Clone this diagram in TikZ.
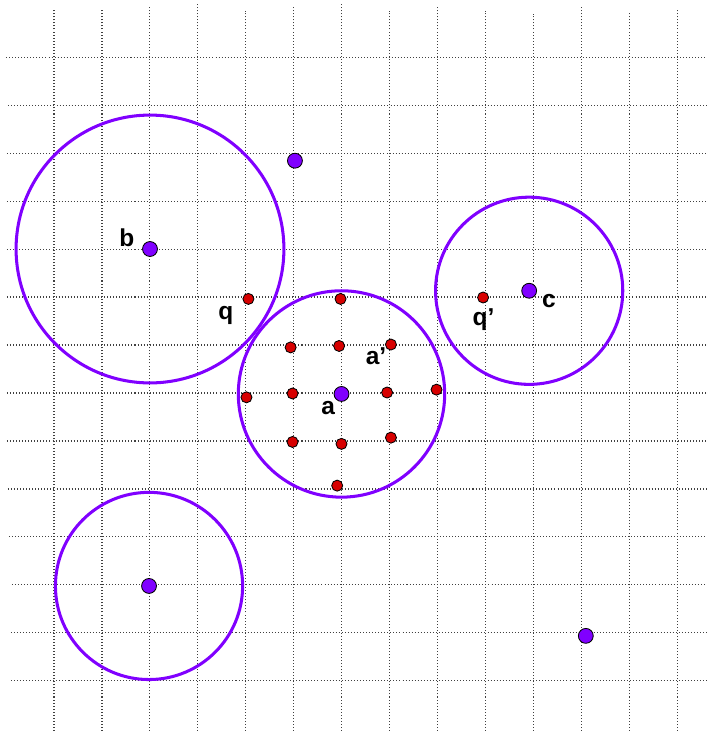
\documentclass[tikz,border=0pt]{standalone}
\usepackage{fontspec}
\setsansfont{Liberation Sans}
\usetikzlibrary{positioning,backgrounds}
\definecolor{ringviolet}{RGB}{128,0,255}
\definecolor{smpred}{RGB}{215,0,0}

\begin{document}
\begin{tikzpicture}[
  grd/.style={draw=black!75, line width=0.6pt, dash pattern=on 0.6pt off 1.2pt},
  ring/.style={draw=ringviolet, line width=1.8pt},
  ctr/.style={circle, draw=black, line width=0.5pt, fill=ringviolet, inner sep=0pt, minimum size=3.1mm},
  smp/.style={circle, draw=black, line width=0.5pt, fill=smpred, inner sep=0pt, minimum size=2.3mm},
  lbl/.style={font=\sffamily\bfseries\fontsize{14.5}{17}\selectfont, anchor=base, inner sep=0pt}
]
\useasboundingbox (-1.125,-1.042) rectangle (13.625,14.188);

% centres
\node[ctr] (b) at (2,9)       {};
\node[ctr] (a) at (5.99,5.98) {};
\node[ctr] (c) at (9.9,8.13)  {};
\node[ctr] (d) at (1.98,1.98) {};
\node[ctr] (e) at (5.02,10.84){};
\node[ctr] (f) at (11.08,0.94){};

% samples
\node[smp] (q)  at (4.05,7.96) {};
\node[smp] (q2) at (8.94,7.99) {};
\node[smp] (a2) at (7.02,7.01) {};
\foreach \n/\x/\y in {1/5.97/7.96, 2/4.93/6.95, 3/5.94/6.98, 4/4.01/5.91, 5/4.97/5.99,
                      6/6.94/6.01, 7/7.97/6.07, 8/4.97/4.98, 9/5.99/4.94, 10/7.02/5.07, 11/5.9/4.07}
  \node[smp] (s\n) at (\x,\y) {};

% labels
\node[lbl] (lb)  at (1.52,9.05) {b};
\node[lbl] (lq)  at (3.58,7.54) {q};
\node[lbl] (la)  at (5.71,5.56) {a};
\node[lbl] (la2) at (6.71,6.6)  {a’};
\node[lbl] (lq2) at (8.95,7.4)  {q’};
\node[lbl] (lc)  at (10.31,7.79){c};

\begin{scope}[on background layer]
  \foreach \i/\t in {0/14.0, 1/14.0, 2/14.06, 3/14.1, 4/13.96, 5/14.06, 6/14.1,
                     7/13.96, 8/14.04, 9/13.96, 10/13.9, 11/14.04, 12/13.94, 13/14.0}
    \draw[grd] (\i,-1.04) -- (\i,\t);
  \foreach \j/\s in {0/-0.9, 1/-0.9, 2/-0.88, 3/-0.94, 4/-0.96, 5/-0.98, 6/-0.98,
                     7/-0.98, 8/-0.98, 9/-0.98, 10/-0.98, 11/-0.98, 12/-0.96, 13/-1.0}
    \draw[grd] (\s,\j) -- (13.6,\j);
  \draw[ring] (b) circle (2.79);
  \draw[ring] (a) circle (2.15);
  \draw[ring] (c) circle (1.95);
  \draw[ring] (d) circle (1.95);
\end{scope}
\end{tikzpicture}
\end{document}
